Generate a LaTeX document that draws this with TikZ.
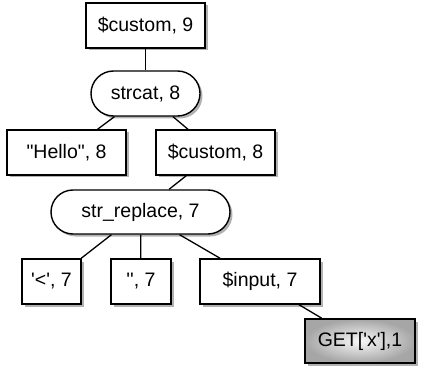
\documentclass[tikz,border=0pt]{standalone}
\usepackage{fontspec}
\setmainfont{Liberation Sans}
\usetikzlibrary{shapes.misc,shadows}
\begin{document}
\begin{tikzpicture}[x=1pt,y=-1pt,
  base/.style={draw=black, line width=1.4pt, fill=white, font=\fontsize{19.5}{22}\selectfont,
    inner sep=0pt, minimum height=45pt,
    drop shadow={shadow xshift=2.5pt, shadow yshift=-2.5pt, fill=black, opacity=0.3}},
  box/.style={base, rectangle},
  pill/.style={base, rounded rectangle},
  hot/.style={box, shading=radial, inner color=gray!5, outer color=gray!70},
  edge/.style={line width=1.3pt}]
\useasboundingbox (0,0) rectangle (422,371);
\node[box, minimum width=119pt] (n9) at (145.5,25.5) {\$custom, 9};
\node[pill, minimum width=109pt] (cat) at (145.5,93.5) {strcat, 8};
\node[box, minimum width=119pt] (hello) at (66.5,152.5) {\textquotedbl Hello\textquotedbl, 8};
\node[box, minimum width=119pt] (c8) at (215.5,152.5) {\$custom, 8};
\node[pill, minimum width=179pt, minimum height=44pt] (sr) at (140.5,212) {str\_replace, 7};
\node[box, minimum width=59pt] (lt) at (51.5,281.5) {\textquotesingle<\textquotesingle, 7};
\node[box, minimum width=60pt] (qq) at (141,281.5) {\textquotesingle\textquotesingle, 7};
\node[box, minimum width=120pt] (inp) at (260,281.5) {\$input, 7};
\node[hot, minimum width=110pt, minimum height=44pt] (get) at (360,341) {GET[\textquotesingle x\textquotesingle],1};
\draw[edge] (n9) -- (cat);
\draw[edge] (cat) -- (hello);
\draw[edge] (cat) -- (c8);
\draw[edge] (c8) -- (sr);
\draw[edge] (sr) -- (lt);
\draw[edge] (sr) -- (qq);
\draw[edge] (sr) -- (inp);
\draw[edge] (inp) -- (get);
\end{tikzpicture}
\end{document}
